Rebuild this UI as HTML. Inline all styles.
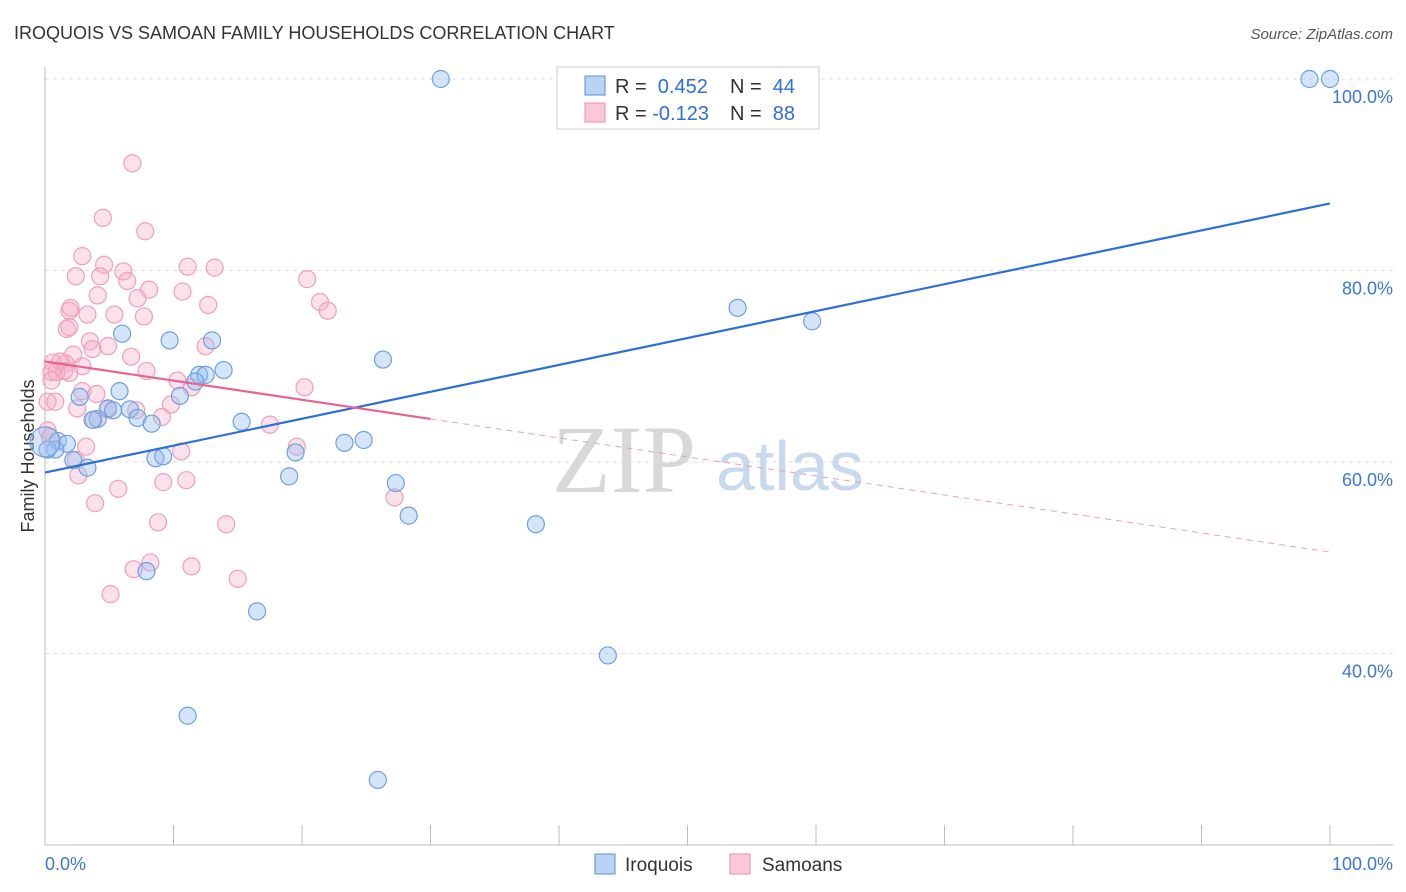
<!DOCTYPE html>
<html><head><meta charset="utf-8"><style>
body{margin:0;background:#fff;font-family:"Liberation Sans",sans-serif;}
svg{display:block}
</style></head><body>
<svg id="chart" width="1406" height="892">
<text x="14" y="39" font-size="18" fill="#333">IROQUOIS VS SAMOAN FAMILY HOUSEHOLDS CORRELATION CHART</text>
<text x="1393" y="39" font-size="15" fill="#555" font-style="italic" text-anchor="end">Source: ZipAtlas.com</text>
<text transform="translate(34,456) rotate(-90)" font-size="18" fill="#333" text-anchor="middle">Family Households</text>
<g id="grid"></g>
<g id="axes"></g>
<g>
<text x="552" y="492" font-size="96" fill="#d8d8d8" font-family="Liberation Serif,serif">ZIP</text>
<text x="716" y="490" font-size="70" fill="#c8d8ee">atlas</text>
</g>
<g id="pts"></g>
<g id="lines"></g>
<g>
<rect x="557" y="67" width="262" height="62" fill="#fff" stroke="#ccc"/>
<rect x="585" y="76" width="20" height="19" fill="#b8d3f5" stroke="#5b8fd8"/>
<rect x="585" y="103" width="20" height="19" fill="#fac8d8" stroke="#e890ab"/>
<text x="615" y="93" font-size="20" fill="#333">R = <tspan fill="#2d6fd6">&#160;0.452</tspan><tspan x="730">N = </tspan><tspan fill="#2d6fd6">&#160;44</tspan></text>
<text x="615" y="120" font-size="20" fill="#333">R = <tspan fill="#2d6fd6">-0.123</tspan><tspan x="730">N = </tspan><tspan fill="#2d6fd6">&#160;88</tspan></text>
</g>
<g>
<rect x="595" y="854" width="20" height="20" fill="#b8d3f5" stroke="#5b8fd8"/>
<text x="625" y="871" font-size="19" fill="#333">Iroquois</text>
<rect x="730" y="854" width="20" height="20" fill="#fac8d8" stroke="#e890ab"/>
<text x="762" y="871" font-size="19" fill="#333">Samoans</text>
</g>
</svg>
<script>
const yTicks=[40,60,80,100];
const yTickLabels=["40.0%","60.0%","80.0%","100.0%"];
const xTickLabels=["0.0%","100.0%"];
const iroX=[30.8,98.4,100,53.9,59.7,6.0,9.7,13.0,26.3,13.9,12.0,12.5,11.7,5.8,10.5,2.7,4.9,5.3,6.6,7.2,4.1,3.7,8.3,15.3,1.0,1.7,24.8,23.3,19.5,0.8,0.2,8.6,9.2,2.2,3.3,19.0,27.3,28.3,38.2,7.9,16.5,43.8,11.1,25.9];
const iroY=[100,100,100,76.1,74.7,73.4,72.7,72.7,70.7,69.6,69.1,69.1,68.4,67.4,66.9,66.8,65.6,65.4,65.5,64.6,64.5,64.4,64.0,64.2,62.2,61.9,62.3,62.0,61.0,61.3,61.3,60.4,60.6,60.2,59.4,58.5,57.8,54.4,53.5,48.6,44.4,39.8,33.5,26.8];
const samX=[6.8,4.5,7.8,2.9,11.1,13.2,4.6,6.1,2.4,4.3,6.4,8.1,20.4,10.7,4.1,7.2,21.4,12.7,2.0,1.9,3.3,5.4,7.7,22.0,1.7,1.9,3.5,4.9,12.5,3.7,2.2,6.7,0.6,1.2,1.6,7.9,2.9,0.5,0.9,1.5,1.9,10.3,11.4,20.2,2.9,4.0,0.5,0.2,0.8,2.5,9.8,7.1,9.1,4.9,3.8,17.5,19.6,3.2,10.6,2.4,2.6,11.0,9.2,5.7,27.2,3.9,8.8,14.1,8.2,6.9,11.4,15.0,5.1,0.2,0.4];
const samY=[91.2,85.5,84.1,81.5,80.4,80.3,80.6,79.9,79.4,79.4,78.9,78.0,79.1,77.8,77.4,77.1,76.7,76.4,76.1,75.8,75.4,75.4,75.2,75.8,73.9,74.1,72.6,72.1,72.1,71.8,71.2,71.0,70.4,70.5,70.3,69.5,70.0,69.4,69.4,69.5,69.3,68.5,67.8,67.8,67.4,67.1,68.5,66.3,66.3,65.6,66.0,65.4,64.7,65.5,64.4,63.9,61.6,61.6,61.1,60.2,58.6,58.1,57.9,57.2,56.3,55.7,53.7,53.5,49.5,48.8,49.1,47.8,46.2,63.3,62.6];
const iroTrend=[[0,58.9],[100,87.0]];
const samTrendSolid=[[0,70.5],[30,64.5]];
const samTrendDash=[[30,64.5],[100,50.6]];
const X=v=>45+v*12.85, Y=v=>79+(100-v)*9.575;
const NS="http://www.w3.org/2000/svg";
function mk(tag,attrs,parent){const e=document.createElementNS(NS,tag);for(const k in attrs)e.setAttribute(k,attrs[k]);document.getElementById(parent).appendChild(e);return e;}
yTicks.forEach((t,i)=>{
 const g=mk('line',{x1:45,x2:1393,y1:Y(t),y2:Y(t),stroke:'#ddd','stroke-dasharray':'4,4'},'grid');
 
 
 const tx=mk('text',{x:1393,y:Y(t)+24,'font-size':18,fill:'#3b76d6','text-anchor':'end'},'grid');
 tx.textContent=yTickLabels[i];
 
 
});
const ax=mk('line',{x1:45,x2:45,y1:67,y2:845,stroke:'#bbb'},'axes');


const bx=mk('line',{x1:45,x2:1393,y1:845,y2:845,stroke:'#bbb'},'axes');


for(let i=0;i<=10;i++){const t=mk('line',{x1:X(i*10),x2:X(i*10),y1:825,y2:845,stroke:'#bbb'},'axes');
 
 }
[[0,'start',45],[1,'end',1393]].forEach(([i,a,x])=>{const t=mk('text',{x:x,y:870,'font-size':18,fill:'#3b76d6','text-anchor':a},'axes');t.textContent=xTickLabels[i];
 
 });
samX.forEach((x,i)=>{const c=mk('circle',{cx:X(x),cy:Y(samY[i]),r:8.5,fill:'rgba(246,170,196,0.35)',stroke:'#eea0ba','stroke-width':1.2},'pts');
 
 });
iroX.forEach((x,i)=>{const c=mk('circle',{cx:X(x),cy:Y(iroY[i]),r:8.5,fill:'rgba(150,190,240,0.4)',stroke:'#6f9fe0','stroke-width':1.2},'pts');
 
 });
const big=mk('circle',{cx:X(0),cy:Y(62.1),r:15,fill:'rgba(150,190,240,0.4)',stroke:'#6f9fe0','stroke-width':1.2},'pts');


function ln(p,st,w,dash,name){const l=mk('line',{x1:X(p[0][0]),y1:Y(p[0][1]),x2:X(p[1][0]),y2:Y(p[1][1]),stroke:st,'stroke-width':w},'lines');if(dash)l.setAttribute('stroke-dasharray',dash);
 
 }
ln(iroTrend,'#2d6fd6',2.2,null,'iroquois-trend-line');
ln(samTrendSolid,'#e8648f',2.2,null,'samoans-trend-line');
ln(samTrendDash,'#e8a0b8',1,'6,5','samoans-trend-extension');
</script>
</body></html>
